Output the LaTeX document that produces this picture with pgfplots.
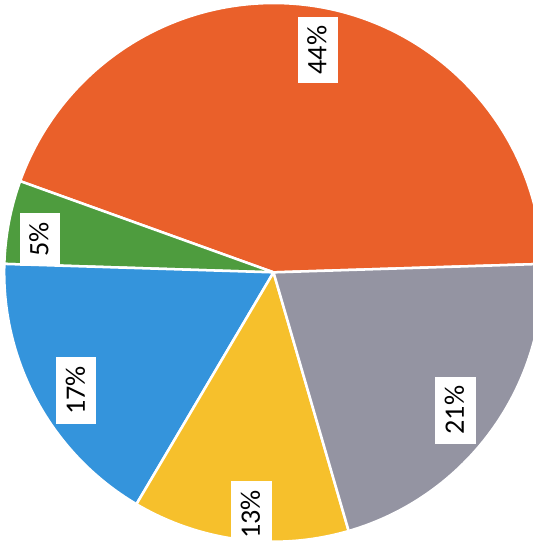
\documentclass[border=0pt]{standalone}
\usepackage{pgfplots}
\usepackage{pgfplotstable}
\usepackage{fontspec}
\setmainfont{Carlito}
\pgfplotsset{compat=1.18}
\definecolor{cOrange}{RGB}{234,96,42}
\definecolor{cGreen}{RGB}{78,156,62}
\definecolor{cBlue}{RGB}{52,148,220}
\definecolor{cYellow}{RGB}{246,192,44}
\definecolor{cGray}{RGB}{148,148,162}
\pgfplotstableread{
value color labang labrad
44 cOrange 78.5 225
5 cGreen 172 233
17 cBlue 211 227
13 cYellow 265 241
21 cGray 323 227
}\piedata
\begin{document}
\begin{tikzpicture}
\begin{axis}[hide axis, xmin=0, xmax=533, ymin=0, ymax=553,
  width=533bp, height=553bp, scale only axis, clip=true]
\pgfplotsextra{
  \pgfplotstablegetrowsof{\piedata}
  \pgfmathtruncatemacro\N{\pgfplotsretval-1}
  \gdef\startang{1.8}
  \foreach \i in {0,...,\N}{
    \pgfplotstablegetelem{\i}{value}\of\piedata \let\v\pgfplotsretval
    \pgfplotstablegetelem{\i}{color}\of\piedata \let\slicecol\pgfplotsretval
    \pgfmathsetmacro\endang{\startang+3.6*\v}
    \fill[fill=\slicecol, draw=white, line width=2.5bp, line join=round]
      (axis cs:276,283) -- ++(\startang:267bp)
      arc[start angle=\startang, end angle=\endang, radius=267bp] -- cycle;
    \xdef\startang{\endang}
  }
  \foreach \i in {0,...,\N}{
    \pgfplotstablegetelem{\i}{value}\of\piedata \let\v\pgfplotsretval
    \pgfplotstablegetelem{\i}{labang}\of\piedata \let\la\pgfplotsretval
    \pgfplotstablegetelem{\i}{labrad}\of\piedata \let\lr\pgfplotsretval
    \pgfmathsetmacro\lx{275+\lr*cos(\la)}
    \pgfmathsetmacro\ly{283+\lr*sin(\la)}
    \node[fill=white, rotate=90, font=\fontsize{28}{28}\selectfont,
      text height=19bp, text depth=2bp, inner ysep=9.5bp, inner xsep=9bp]
      at (axis cs:\lx,\ly) {\v\%};
  }
}
\end{axis}
\end{tikzpicture}
\end{document}
